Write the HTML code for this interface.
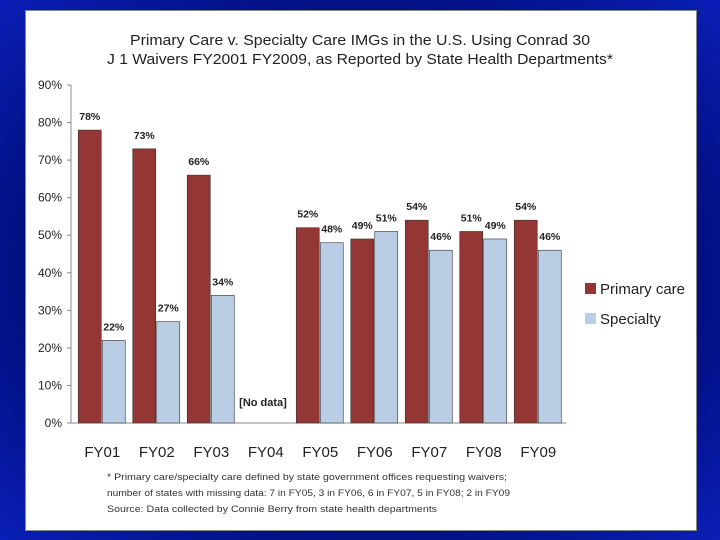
<!DOCTYPE html>
<html><head><meta charset="utf-8"><style>
html,body{margin:0;padding:0}
body{width:720px;height:540px;overflow:hidden;background:radial-gradient(ellipse at center,#000a6e 55%,#0a1fb8 100%);font-family:"Liberation Sans",sans-serif;position:relative}
#panel{position:absolute;left:25px;top:10px;width:672px;height:521px;background:#fff;border:1px solid #888;box-sizing:border-box}
svg text{font-family:"Liberation Sans",sans-serif}
</style></head><body>
<div id="panel"></div>
<svg id="chart" width="720" height="540" style="position:absolute;left:0;top:0">
<text x="360" y="45" text-anchor="middle" font-size="14.5" fill="#222" textLength="460" lengthAdjust="spacingAndGlyphs">Primary Care v. Specialty Care IMGs in the U.S. Using Conrad 30</text>
<text x="360" y="64" text-anchor="middle" font-size="14.5" fill="#222" textLength="506" lengthAdjust="spacingAndGlyphs">J 1 Waivers FY2001 FY2009, as Reported by State Health Departments*</text>
<g id="axes"></g><g id="bars"></g>
<rect x="585" y="283" width="11" height="11" fill="#943634"/>
<text x="600" y="294" font-size="15" fill="#222">Primary care</text>
<rect x="585" y="313" width="11" height="11" fill="#b9cde5"/>
<text x="600" y="324" font-size="15" fill="#222">Specialty</text>
<text x="263" y="406" text-anchor="middle" font-size="11" font-weight="bold" fill="#222">[No data]</text>
<text x="107" y="480" font-size="9.5" fill="#333" textLength="400" lengthAdjust="spacingAndGlyphs">* Primary care/specialty care defined by state government offices requesting waivers;</text>
<text x="107" y="496" font-size="9.5" fill="#333" textLength="403" lengthAdjust="spacingAndGlyphs">number of states with missing data: 7 in FY05, 3 in FY06, 6 in FY07, 5 in FY08; 2 in FY09</text>
<text x="107" y="512" font-size="9.5" fill="#333" textLength="330" lengthAdjust="spacingAndGlyphs">Source: Data collected by Connie Berry from state health departments</text>
</svg>
<script>
const categories=["FY01","FY02","FY03","FY04","FY05","FY06","FY07","FY08","FY09"];
const primary=[78,73,66,null,52,49,54,51,54];
const specialty=[22,27,34,null,48,51,46,49,46];
const yTicks=[0,10,20,30,40,50,60,70,80,90];
const NS="http://www.w3.org/2000/svg";
const x0=75,slot=54.5,y0=423,yTop=85,yMax=90,axisX=71;
const y=v=>y0-(v/yMax)*(y0-yTop);
const xc=i=>x0+slot*(i+0.5);
const axes=document.getElementById('axes'),bars=document.getElementById('bars');
function mk(tag,attrs,parent){const e=document.createElementNS(NS,tag);for(const k in attrs)e.setAttribute(k,attrs[k]);parent.appendChild(e);return e;}
let l=mk('line',{x1:axisX,y1:y0,x2:566,y2:y0,stroke:'#888'},axes);


l=mk('line',{x1:axisX,y1:yTop,x2:axisX,y2:y0,stroke:'#888'},axes);


yTicks.forEach(t=>{
 const tk=mk('line',{x1:axisX-4,x2:axisX,y1:y(t),y2:y(t),stroke:'#888'},axes);
 
 
 const tx=mk('text',{x:axisX-9,y:y(t)+4,'text-anchor':'end','font-size':12,fill:'#222'},axes);
 tx.textContent=t+'%';
 
 
});
categories.forEach((c,i)=>{
 const tx=mk('text',{x:xc(i),y:y0+34,'text-anchor':'middle','font-size':15,fill:'#222'},axes);
 tx.textContent=c;
 
 
 [[primary[i],'#943634',-24,'bar-primary'],[specialty[i],'#b9cde5',0,'bar-specialty']].forEach(([v,col,off,nm])=>{
  if(v==null)return;
  const r=mk('rect',{x:xc(i)+off,y:y(v),width:23,height:y0-y(v),fill:col,stroke:'#333','stroke-width':0.6},bars);
  
  
  const lb=mk('text',{x:xc(i)+off+11.5,y:y(v)-10,'text-anchor':'middle','font-size':10.5,'font-weight':'bold',fill:'#222'},bars);
  lb.textContent=v+'%';
  
  
 });
});
</script>
</body></html>
